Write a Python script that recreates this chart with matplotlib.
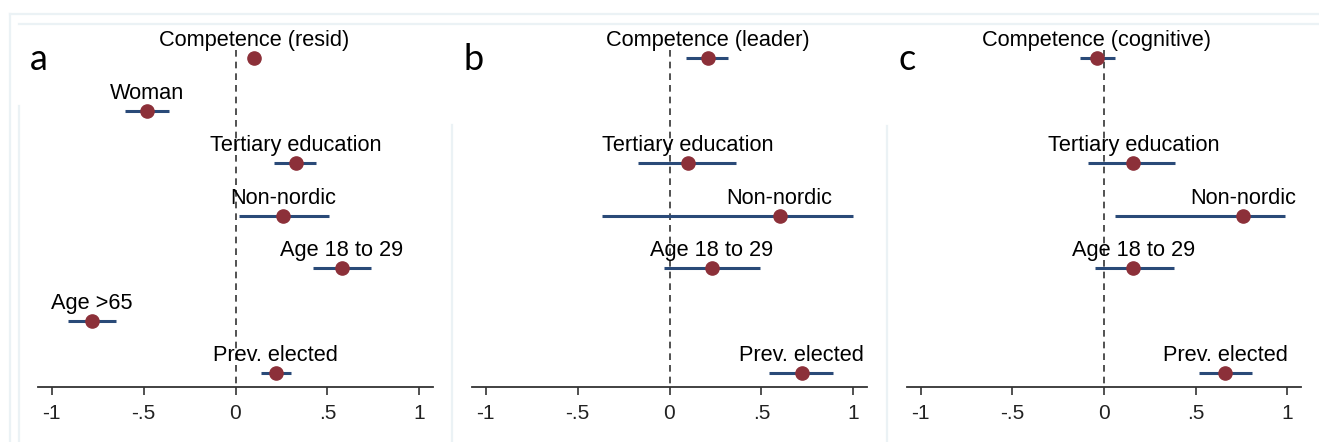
"""Coefficient plots: three panels of estimates with confidence intervals."""

import numpy as np
import matplotlib

matplotlib.use("Agg")
import matplotlib.pyplot as plt
from matplotlib.lines import Line2D

# ---------------------------------------------------------------------------
# Data
# ---------------------------------------------------------------------------

ROWS = ["Competence", "Woman", "Tertiary education", "Non-nordic",
        "Age 18 to 29", "Age >65", "Prev. elected"]

PANEL_LETTERS = ["a", "b", "c"]
COMPETENCE_LABELS = ["Competence (resid)", "Competence (leader)",
                     "Competence (cognitive)"]

nan = np.nan

# panel a
est_a = [0.10, -0.48, 0.33, 0.26, 0.58, -0.78, 0.22]
lo_a = [0.08, -0.60, 0.21, 0.02, 0.42, -0.91, 0.14]
hi_a = [0.12, -0.36, 0.44, 0.51, 0.74, -0.65, 0.30]

# panel b
est_b = [0.21, nan, 0.10, 0.60, 0.23, nan, 0.72]
lo_b = [0.09, nan, -0.17, -0.37, -0.03, nan, 0.54]
hi_b = [0.32, nan, 0.36, 1.00, 0.49, nan, 0.89]

# panel c
est_c = [-0.04, nan, 0.16, 0.76, 0.16, nan, 0.66]
lo_c = [-0.13, nan, -0.09, 0.06, -0.05, nan, 0.52]
hi_c = [0.06, nan, 0.39, 0.99, 0.38, nan, 0.81]

XTICKS = [-1, -0.5, 0, 0.5, 1]
XTICKLABELS = ["-1", "-.5", "0", ".5", "1"]

# ---------------------------------------------------------------------------
# Style
# ---------------------------------------------------------------------------

W, H = 1319, 442
DPI = 100
POINT_COLOR = "#8c3039"
CI_COLOR = "#2a4a78"
AXIS_COLOR = "#333333"
FAINT = "#ebf2f5"

plt.rcParams["font.family"] = ["Liberation Sans", "DejaVu Sans"]

fig = plt.figure(figsize=(W / DPI, H / DPI), dpi=DPI)
fig.patch.set_facecolor("white")

# faint frame lines from the stitched source image
def fline(x0, y0, x1, y1):
    fig.add_artist(Line2D([x0 / W, x1 / W], [1 - y0 / H, 1 - y1 / H],
                          color=FAINT, lw=1.6, zorder=0))

fline(10, 14, W, 14)
fline(19, 24, W, 24)
fline(10, 14, 10, H)
fline(19, 106, 19, H)
fline(452, 125, 452, H)
fline(887, 126, 887, H)

panels = [
    (est_a, lo_a, hi_a, 38, 433),
    (est_b, lo_b, hi_b, 472, 867),
    (est_c, lo_c, hi_c, 907, 1301),
]

AX_TOP, AX_BOTTOM = 20, 387
ROW_STEP = 52.5
y_bottom = 6 + (AX_BOTTOM - 373) / ROW_STEP
y_top = 0 - (58 - AX_TOP) / ROW_STEP

for i, (est, lo, hi, x0, x1) in enumerate(panels):
    ax = fig.add_axes([x0 / W, 1 - AX_BOTTOM / H, (x1 - x0) / W,
                       (AX_BOTTOM - AX_TOP) / H])
    ax.set_facecolor("none")
    ax.set_xlim(-1.075, 1.075)
    ax.set_ylim(y_bottom, y_top)

    labels = [COMPETENCE_LABELS[i]] + ROWS[1:]
    ypos = np.arange(len(ROWS))

    ax.plot([0, 0], [-0.15, y_bottom], color=AXIS_COLOR, lw=1.2,
            dashes=(4, 3), zorder=1)

    for y, e, l, h, lab in zip(ypos, est, lo, hi, labels):
        if np.isnan(e):
            continue
        ax.plot([l, h], [y, y], color=CI_COLOR, lw=2.2,
                solid_capstyle="butt", zorder=2)
        ax.plot(e, y, "o", color=POINT_COLOR, ms=9.5, mec=POINT_COLOR,
                zorder=3)
        ax.text(e, y - 0.33, lab, ha="center", va="center", fontsize=15.7,
                color="black", zorder=4)

    for side in ("left", "right", "top"):
        ax.spines[side].set_visible(False)
    ax.spines["bottom"].set_color(AXIS_COLOR)
    ax.spines["bottom"].set_linewidth(1.3)
    ax.set_yticks([])
    ax.set_xticks(XTICKS)
    ax.set_xticklabels(XTICKLABELS)
    ax.tick_params(axis="x", direction="out", length=6, width=1.2,
                   color=AXIS_COLOR, labelsize=15, labelcolor="#222222",
                   pad=6)

    fig.text((x0 - 8) / W, 1 - 60 / H, PANEL_LETTERS[i], fontsize=26,
             family=["Lato", "DejaVu Sans"], ha="left", va="center",
             color="black")

fig.savefig("out.png", dpi=DPI)
